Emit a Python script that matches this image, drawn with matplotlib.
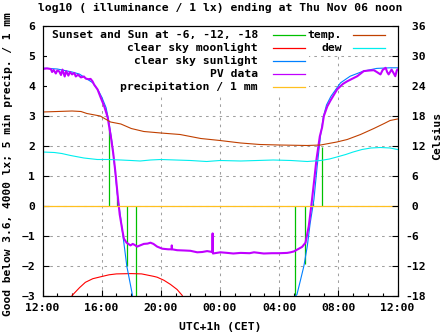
import numpy as np
import matplotlib
matplotlib.use("Agg")
import matplotlib.pyplot as plt
from matplotlib.patches import Rectangle
from matplotlib.lines import Line2D
from matplotlib.transforms import Affine2D

# hours after midnight of the first day (12 = 12:00, 36 = next day 12:00)
xtick_h = [12, 16, 20, 24, 28, 32, 36]
xtick_labels = ["12:00", "16:00", "20:00", "00:00", "04:00", "08:00", "12:00"]

# sunset / sun at -6, -12, -18 (evening), then -18, -12, -6, sunrise (morning)
sun_h = [16.48, 17.05, 17.7, 18.3, 29.06, 29.73, 30.32, 30.88]
sun_top = [2.6, 0.3, -2.0, -3.0, -3.0, -1.95, 0.1, 1.95]

moon_h = [14.0, 14.5, 14.9, 15.4, 15.9, 16.5, 17.0, 18.0, 18.7, 19.1, 19.5,
          19.75, 20.2, 20.65, 21.1, 21.45]
moon = [-3.0, -2.74, -2.56, -2.44, -2.38, -2.31, -2.28, -2.27, -2.28, -2.32,
        -2.36, -2.39, -2.49, -2.63, -2.8, -3.0]

sun_eve_h = [12.0, 13.0, 14.0, 14.5, 15.0, 15.4, 15.8, 16.0, 16.3, 16.5, 16.7,
             16.9, 17.05, 17.27, 17.5, 17.7, 18.05, 18.1]
sun_eve = [4.58, 4.55, 4.45, 4.38, 4.22, 4.09, 3.81, 3.62, 3.26, 2.76, 2.1,
           1.2, 0.4, -0.36, -1.24, -2.02, -2.91, -3.05]
sun_morn_h = [28.9, 29.2, 29.45, 29.67, 29.9, 30.1, 30.35, 30.57, 30.8, 31.0,
              31.2, 31.5, 32.15, 32.8, 33.7, 34.6, 35.5, 36.0]
sun_morn = [-3.1, -2.97, -2.47, -2.02, -1.36, -0.58, 0.2, 1.31, 2.35, 2.98,
            3.35, 3.64, 4.09, 4.31, 4.48, 4.57, 4.59, 4.59]

pv_h = [12.0, 12.3, 12.56, 12.65, 12.75, 12.9, 13.0, 13.13, 13.25, 13.35,
        13.5, 13.6, 13.75, 13.85, 14.0, 14.15, 14.25, 14.4, 14.6, 14.8,
        14.93, 15.1, 15.25, 15.38, 15.49, 15.72, 15.94, 16.17, 16.4, 16.5,
        16.62, 16.78, 16.93, 17.09, 17.22, 17.39, 17.5, 17.68, 17.95, 18.1,
        18.25, 18.4, 18.6, 18.85, 19.1, 19.3, 19.5, 19.75, 20.1, 20.5,
        20.73, 20.74, 20.76, 21.1, 21.6, 22.0, 22.46, 22.8, 23.13, 23.48,
        23.5, 23.52, 24.03, 24.5, 24.9, 25.4, 26.0, 26.3, 26.96, 27.5,
        28.0, 28.54, 28.77, 29.0, 29.33, 29.55, 29.78, 30.0, 30.17, 30.35,
        30.52, 30.75, 30.9, 31.02, 31.25, 31.47, 31.92, 32.3, 32.6, 33.28,
        33.72, 34.1, 34.4, 34.6, 34.85, 35.0, 35.2, 35.3, 35.4, 35.6,
        35.75, 35.85, 35.95, 36.0]
pv = [4.55, 4.57, 4.55, 4.45, 4.52, 4.4, 4.5, 4.47, 4.35, 4.53,
      4.3, 4.48, 4.33, 4.45, 4.37, 4.42, 4.3, 4.36, 4.27, 4.3,
      4.23, 4.21, 4.22, 4.14, 4.03, 3.87, 3.59, 3.31, 2.95, 2.65,
      2.3, 1.75, 1.1, 0.3, -0.3, -0.8, -1.1, -1.24, -1.33, -1.28,
      -1.32, -1.37, -1.33, -1.28, -1.27, -1.24, -1.28, -1.37, -1.44, -1.46,
      -1.46, -1.33, -1.46, -1.49, -1.5, -1.51, -1.56, -1.55, -1.52, -1.55,
      -0.93, -1.6, -1.56, -1.58, -1.6, -1.58, -1.59, -1.56, -1.6, -1.59,
      -1.59, -1.58, -1.56, -1.53, -1.44, -1.38, -1.24, -0.69, -0.02, 0.76,
      1.53, 2.31, 2.6, 2.98, 3.3, 3.5, 3.87, 4.05, 4.14, 4.31,
      4.48, 4.5, 4.51, 4.45, 4.37, 4.52, 4.59, 4.45, 4.37, 4.53,
      4.4, 4.31, 4.5, 4.53]

precip_h = [12.0, 36.0]
precip = [0.0, 0.0]

temp_h = [12.0, 13.0, 14.0, 14.6, 15.0, 15.9, 16.6, 17.3, 18.0, 18.85, 20.0,
          21.3, 22.7, 24.0, 25.4, 26.7, 28.0, 29.9, 30.8, 31.9, 32.6, 33.5,
          34.4, 35.1, 35.5, 36.0]
temp = [18.7, 18.8, 18.9, 18.8, 18.4, 17.9, 16.7, 16.3, 15.4, 14.8, 14.5,
        14.2, 13.4, 13.0, 12.5, 12.2, 12.1, 12.0, 12.1, 12.7, 13.2, 14.2,
        15.4, 16.4, 17.0, 17.3]

dew_h = [12.0, 12.8, 13.3, 13.9, 14.8, 15.7, 16.5, 17.3, 18.0, 18.6, 19.3,
         20.0, 21.0, 22.0, 23.1, 24.0, 25.4, 26.5, 27.6, 28.8, 29.9, 30.8,
         31.4, 31.9, 32.5, 33.0, 33.6, 34.2, 34.85, 35.5, 36.0]
dew = [10.7, 10.6, 10.4, 10.0, 9.5, 9.2, 9.2, 9.1, 9.0, 8.9, 9.1,
       9.2, 9.1, 9.0, 8.8, 9.0, 8.9, 9.0, 9.1, 9.0, 8.8, 9.0,
       9.3, 9.7, 10.2, 10.7, 11.2, 11.5, 11.6, 11.5, 11.2]

c_sun = "#00c000"
c_moon = "#ff0000"
c_clear = "#0080ff"
c_pv = "#c000ff"
c_precip = "#ffc020"
c_temp = "#c04000"
c_dew = "#00eeee"

plt.rcParams.update({
    "font.family": "DejaVu Sans Mono",
    "font.weight": "bold",
    "font.size": 8.2,
})

W, H = 447, 335
fig = plt.figure(figsize=(W / 100, H / 100), dpi=100)
# pixel coords, origin top left
pix = Affine2D().scale(1 / W, -1 / H).translate(0, 1) + fig.transFigure

ax = fig.add_axes([42.5 / W, 1 - 295.5 / H, 355 / W, 270 / H])
ax.set_xlim(12, 36)
ax.set_ylim(-3, 6)
ax.set_axisbelow(True)

ax.set_xticks(xtick_h)
ax.set_xticklabels(xtick_labels)
ax.set_xticks(np.arange(12, 37, 1), minor=True)
ax.set_yticks(range(-3, 7))
ax.tick_params(which="major", direction="in", length=4, width=0.8, pad=5.4)
ax.tick_params(which="minor", direction="in", length=2, width=0.8)
ax.grid(True, which="major", color="#a0a0a0", lw=0.75, linestyle=(0, (2.5, 4)))
for s in ax.spines.values():
    s.set_linewidth(0.8)

# opaque key area
ax.add_patch(Rectangle((47, 26.5), 262, 68, transform=pix, facecolor="white",
                       edgecolor="none", zorder=1))
ax.add_patch(Rectangle((309, 26.5), 84, 26, transform=pix, facecolor="white",
                       edgecolor="none", zorder=1))

ax.vlines(sun_h, 0, sun_top, color=c_sun, lw=0.9, zorder=2)
ax.plot(moon_h, moon, color=c_moon, lw=0.8, zorder=2)
ax.plot(sun_eve_h, sun_eve, color=c_clear, lw=0.8, zorder=2)
ax.plot(sun_morn_h, sun_morn, color=c_clear, lw=0.8, zorder=2)
ax.plot(pv_h, pv, color=c_pv, lw=1.5, zorder=3)
ax.plot(precip_h, precip, color=c_precip, lw=0.9, zorder=4)

ax2 = ax.twinx()
ax2.set_ylim(-18, 36)
ax2.set_yticks(range(-18, 37, 6))
ax2.set_yticklabels([f"{v: d}" for v in range(-18, 37, 6)])
ax2.tick_params(direction="in", length=4, width=0.8, pad=5.4)
ax2.plot(temp_h, temp, color=c_temp, lw=0.8)
ax2.plot(dew_h, dew, color=c_dew, lw=0.8)

# key
rows1 = [("Sunset and Sun at -6, -12, -18", c_sun),
         ("clear sky moonlight", c_moon),
         ("clear sky sunlight", c_clear),
         ("PV data", c_pv),
         ("precipitation / 1 mm", c_precip)]
rows2 = [("temp.", c_temp), ("dew", c_dew)]
for i, (lab, col) in enumerate(rows1):
    y = 35 + 13 * i
    fig.text(258 / W, 1 - y / H, lab, ha="right", va="center")
    fig.add_artist(Line2D([273, 305], [y, y], transform=pix, color=col, lw=0.9))
for i, (lab, col) in enumerate(rows2):
    y = 35 + 13 * i
    fig.text(342 / W, 1 - y / H, lab, ha="right", va="center")
    fig.add_artist(Line2D([353, 385], [y, y], transform=pix, color=col, lw=0.9))

fig.text(220 / W, 1 - 8 / H, "log10 ( illuminance / 1 lx) ending at Thu Nov 06 noon",
         ha="center", va="center")
fig.text(8 / W, 1 - 164 / H, "Good below 3.6, 4000 lx; 5 min precip. / 1 mm",
         rotation=90, ha="center", va="center", fontsize=8.1)
fig.text(437 / W, 1 - 136 / H, "Celsius", rotation=90, ha="center", va="center")
fig.text(220 / W, 1 - 327 / H, "UTC+1h (CET)", ha="center", va="center")

fig.savefig("out.png", dpi=100)
